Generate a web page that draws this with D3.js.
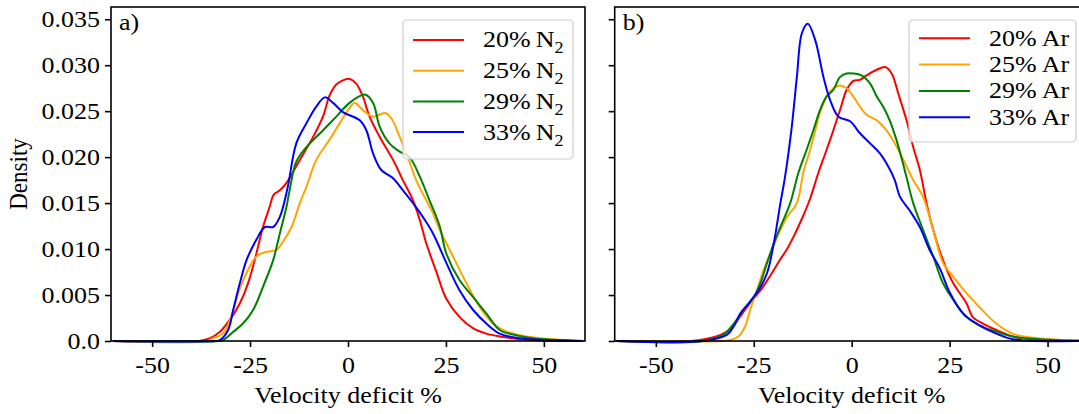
<html>
<head>
<script src="https://d3js.org/d3.v7.min.js"></script>
<style>
  body { margin: 0; background: #fff; }
  svg text { font-family: "Liberation Serif", Tinos, "Times New Roman", Times, serif !important; fill: #000; }
  .sx { transform-box: fill-box; }
</style>
</head>
<body>
<svg id="chart" width="1079" height="414"></svg>
<script>
// ---- data ----
const shares = ["20%", "25%", "29%", "33%"];
const colors = ["red", "orange", "green", "blue"];
const xTicks = [-50, -25, 0, 25, 50];
const xTickLabels = ["-50", "-25", "0", "25", "50"];
const yTicks = [0, 0.005, 0.010, 0.015, 0.020, 0.025, 0.030, 0.035];
const yTickLabels = ["0.0", "0.005", "0.010", "0.015", "0.020", "0.025", "0.030", "0.035"];

// panel a) N2
const n2_20_x = [-60, -38, -35.2, -32.7, -29.7, -27.6, -25.5, -23.4, -21.7, -20, -19, -17.4, -15.7, -12.3, -8.9, -6.4, -4.7, -3, -1, 0.5, 2.1, 3.8, 5.5, 8.1, 11.5, 14, 16.6, 18.3, 20, 22.5, 25.1, 28.5, 31.9, 35.3, 38.7, 47, 60];
const n2_20_y = [0, 0, 0.0003, 0.001, 0.0026, 0.0041, 0.0063, 0.0095, 0.0124, 0.0146, 0.0159, 0.0164, 0.0172, 0.0197, 0.0222, 0.0244, 0.0267, 0.0279, 0.0284, 0.0285, 0.028, 0.0266, 0.0244, 0.0222, 0.0197, 0.0175, 0.0153, 0.0132, 0.0106, 0.0076, 0.0046, 0.0026, 0.0014, 0.0008, 0.0005, 0.0001, 0];
const n2_25_x = [-60, -36, -34.5, -31.9, -29.7, -28, -25.9, -23.4, -20.8, -18.3, -16.6, -14.4, -12.3, -10.6, -8.1, -4.7, -2.1, 0, 1.7, 3.8, 6.4, 9.4, 11.1, 13.2, 15.3, 17.4, 20, 21.7, 23.4, 26.8, 30.2, 33.6, 37, 39.5, 43, 48.9, 60];
const n2_25_y = [0, 0, 0.0003, 0.0008, 0.0028, 0.0052, 0.0074, 0.0092, 0.0097, 0.0099, 0.0108, 0.0124, 0.015, 0.0168, 0.0197, 0.0219, 0.0237, 0.0251, 0.0259, 0.0251, 0.0244, 0.0248, 0.0242, 0.0222, 0.02, 0.0175, 0.0153, 0.0139, 0.0121, 0.0092, 0.0063, 0.0037, 0.0019, 0.0012, 0.0007, 0.0003, 0];
const n2_29_x = [-60, -33, -31.9, -29.3, -26.8, -24.2, -21.7, -19.1, -17.4, -15.7, -14.9, -13.2, -10.6, -6.4, -3, 0.4, 4.3, 6.4, 8.1, 10.6, 13.2, 15.7, 18.3, 20.8, 23.4, 25.1, 28.5, 31.9, 35.3, 38.7, 42.1, 47.2, 60];
const n2_29_y = [0, 0, 0.0001, 0.001, 0.0019, 0.0034, 0.0059, 0.0088, 0.0117, 0.0146, 0.0164, 0.0195, 0.0211, 0.0229, 0.0244, 0.0259, 0.0268, 0.0259, 0.0233, 0.0215, 0.0206, 0.02, 0.0179, 0.0153, 0.0125, 0.0095, 0.0066, 0.0048, 0.003, 0.0012, 0.0007, 0.0003, 0];
const n2_33_x = [-60, -34, -32.7, -30.6, -29.3, -27.6, -25.9, -23.4, -21.2, -19.1, -17.4, -15.5, -13.2, -10.6, -8.1, -5.9, -3.8, -1.3, 3, 4.7, 6.4, 8.5, 11.5, 14, 16.6, 19.1, 21.7, 25.1, 28.5, 31.9, 35.3, 38.7, 43.8, 60];
const n2_33_y = [0, 0, 0.0001, 0.0012, 0.0034, 0.0063, 0.0088, 0.011, 0.0124, 0.0124, 0.0135, 0.0165, 0.0215, 0.0237, 0.0255, 0.0265, 0.0259, 0.0249, 0.024, 0.0229, 0.0204, 0.0186, 0.0177, 0.0164, 0.015, 0.0135, 0.0117, 0.0085, 0.0055, 0.0034, 0.0019, 0.0008, 0.0003, 0];

// panel b) Ar
const ar_20_x = [-60, -41, -33.3, -31, -28.4, -25.5, -23.3, -20.8, -18.5, -16.5, -14.9, -12.7, -10.6, -8.5, -6.4, -4.7, -3, -1.3, 0.4, 2.1, 3.8, 6.4, 8.5, 10.2, 11.9, 14, 15.7, 17.4, 19.1, 20.8, 23.3, 25.9, 29.3, 30.9, 33.5, 36.9, 41.1, 46, 60];
const ar_20_y = [0, 0, 0.0007, 0.0013, 0.0027, 0.0044, 0.0055, 0.0071, 0.0087, 0.01, 0.0113, 0.0133, 0.0155, 0.0183, 0.0208, 0.0229, 0.0251, 0.0273, 0.0283, 0.0284, 0.0289, 0.0295, 0.0298, 0.0291, 0.0269, 0.024, 0.0211, 0.0186, 0.015, 0.0121, 0.0088, 0.0063, 0.0041, 0.0026, 0.0019, 0.0012, 0.0005, 0.0002, 0];
const ar_25_x = [-60, -33, -31, -28.9, -27.2, -25.9, -24.2, -22.5, -20.4, -18.2, -16.5, -14, -12.3, -10.6, -9.3, -8.1, -6.4, -4.7, -3, -1.3, 0.4, 2.1, 3.8, 6.4, 8.9, 11.5, 14, 15.7, 18.2, 20.8, 23.3, 25.9, 29.3, 32.6, 36.9, 41.1, 45.4, 50.5, 60];
const ar_25_y = [0, 0, 0.0001, 0.0005, 0.0016, 0.0034, 0.0055, 0.0077, 0.0099, 0.0121, 0.0135, 0.015, 0.0184, 0.0208, 0.0229, 0.0248, 0.0266, 0.0275, 0.0278, 0.0275, 0.0266, 0.0255, 0.0246, 0.024, 0.0229, 0.0211, 0.019, 0.0175, 0.0157, 0.0121, 0.0085, 0.007, 0.0052, 0.0037, 0.0019, 0.0008, 0.0004, 0.0002, 0];
const ar_29_x = [-60, -38, -32.7, -30.1, -27.6, -25, -23.3, -21.6, -19.9, -18.2, -15.7, -13.6, -11.5, -9.8, -8.1, -6.4, -4.7, -3, -1.3, 0.4, 2.5, 4.7, 6.4, 8, 9.7, 11.4, 13.1, 14, 15.7, 18.2, 20.8, 23.3, 25.9, 29.3, 32.6, 36.9, 42, 47.9, 60];
const ar_29_y = [0, 0, 0.0007, 0.0019, 0.0034, 0.0048, 0.0063, 0.0085, 0.0106, 0.0124, 0.015, 0.0183, 0.0208, 0.0229, 0.0251, 0.0266, 0.0273, 0.0287, 0.0291, 0.0291, 0.0289, 0.028, 0.0266, 0.0255, 0.024, 0.0219, 0.0193, 0.0178, 0.015, 0.0121, 0.0092, 0.0063, 0.0045, 0.0026, 0.0017, 0.001, 0.0004, 0.0002, 0];
const ar_33_x = [-60, -38, -31.8, -30.1, -28.4, -26.3, -23.8, -21.6, -19.9, -18.2, -17, -15.3, -14, -12.7, -11.2, -9.3, -7.2, -5.5, -3.4, -0.4, 2.1, 4.7, 7.2, 9.3, 11, 12.3, 14.8, 17.4, 19.9, 22.5, 25, 28.4, 32.6, 36.9, 41.1, 60];
const ar_33_y = [0, 0, 0.0007, 0.0016, 0.003, 0.0041, 0.0055, 0.0074, 0.0106, 0.015, 0.0179, 0.0233, 0.0287, 0.0335, 0.0345, 0.0327, 0.0287, 0.0262, 0.0244, 0.0239, 0.0226, 0.0215, 0.0204, 0.019, 0.0175, 0.0157, 0.0142, 0.0124, 0.0099, 0.0079, 0.0053, 0.003, 0.0017, 0.0008, 0.0002, 0];

const panels = [
  { tag: "a)", gas: "N", sub: "2", left: 111, showY: true,
    xs: [n2_20_x, n2_25_x, n2_29_x, n2_33_x], ys: [n2_20_y, n2_25_y, n2_29_y, n2_33_y],
    leg: { x: 403, y: 20, w: 170, h: 139, first: 40, step: 30.7 } },
  { tag: "b)", gas: "Ar", sub: "", left: 614.7, showY: false,
    xs: [ar_20_x, ar_25_x, ar_29_x, ar_33_x], ys: [ar_20_y, ar_25_y, ar_29_y, ar_33_y],
    leg: { x: 909, y: 20, w: 167, h: 122, first: 38.3, step: 26.3 } }
];

const plotTop = 7, plotBottom = 341, plotW = 474;
const fs = 23, stretch = 1.13;
const serif = '"Liberation Serif", Tinos, "Times New Roman", Times, serif';
const svg = d3.select("#chart");

panels.forEach(p => {
  const x = d3.scaleLinear().domain([-60.5, 60.5]).range([p.left, p.left + plotW]);
  const y = d3.scaleLinear().domain([0, 0.03633]).range([plotBottom, plotTop]);
  const g = svg.append("g");

  const line = d3.line().x(d => x(d[0])).y(d => Math.min(y(d[1]), plotBottom))
    .curve(d3.curveCatmullRom.alpha(0.5));
  p.xs.forEach((xv, i) => {
    g.append("path")
      .datum(xv.map((v, k) => [v, p.ys[i][k]]))
      .attr("d", line)
      .attr("fill", "none")
      .attr("stroke", colors[i])
      .attr("stroke-width", 2);
  });

  // frame
  g.append("rect")
    .attr("x", p.left).attr("y", plotTop)
    .attr("width", plotW).attr("height", plotBottom - plotTop)
    .attr("fill", "none").attr("stroke", "#000").attr("stroke-width", 1.6);

  const xa = g.append("g").attr("transform", `translate(0,${plotBottom})`)
    .call(d3.axisBottom(x).tickValues(xTicks).tickSize(6).tickPadding(10)
      .tickFormat((d, i) => xTickLabels[i]));
  const ya = g.append("g").attr("transform", `translate(${p.left},0)`)
    .call(d3.axisLeft(y).tickValues(yTicks).tickSize(6).tickPadding(5)
      .tickFormat((d, i) => p.showY ? yTickLabels[i] : ""));
  [xa, ya].forEach(a => {
    a.attr("font-family", serif);
    a.select(".domain").remove();
    a.selectAll("line").attr("stroke", "#000").attr("stroke-width", 1.6);
    a.selectAll("text").attr("font-size", fs).attr("fill", "#000")
      .attr("class", "sx").style("transform", `scaleX(${stretch})`);
  });
  xa.selectAll("text").style("transform-origin", "center");
  ya.selectAll("text").style("transform-origin", "right");

  // panel tag
  g.append("text").attr("x", p.left + 8).attr("y", 30)
    .attr("font-size", fs).attr("class", "sx")
    .style("transform", `scaleX(${stretch})`).style("transform-origin", "left")
    .text(p.tag);

  // x label
  g.append("text").attr("x", p.left + plotW / 2).attr("y", 403)
    .attr("text-anchor", "middle").attr("font-size", fs).attr("class", "sx")
    .style("transform", `scaleX(${stretch})`).style("transform-origin", "center")
    .text("Velocity deficit %");

  // legend
  const L = p.leg;
  const lg = g.append("g");
  lg.append("rect").attr("x", L.x).attr("y", L.y).attr("width", L.w).attr("height", L.h)
    .attr("rx", 4).attr("fill", "#fff").attr("fill-opacity", 0.8)
    .attr("stroke", "#cccccc").attr("stroke-width", 1.2);
  shares.forEach((s, i) => {
    const cy = L.first + i * L.step;
    lg.append("line").attr("x1", L.x + 10).attr("x2", L.x + 61)
      .attr("y1", cy).attr("y2", cy)
      .attr("stroke", colors[i]).attr("stroke-width", 2);
    const t = lg.append("text").attr("x", L.x + 80).attr("y", cy + 7.5)
      .attr("font-size", fs).attr("class", "sx")
      .style("transform", `scaleX(${stretch})`).style("transform-origin", "left");
    t.append("tspan").text(s + "\u2009" + p.gas);
    if (p.sub) t.append("tspan").attr("dy", 6).attr("font-size", 16).text(p.sub);
  });
});

// y label
svg.append("g").attr("transform", `translate(27,174) scale(${stretch},1) rotate(-90)`)
  .append("text").attr("text-anchor", "middle").attr("font-size", fs).text("Density");
</script>
</body>
</html>
